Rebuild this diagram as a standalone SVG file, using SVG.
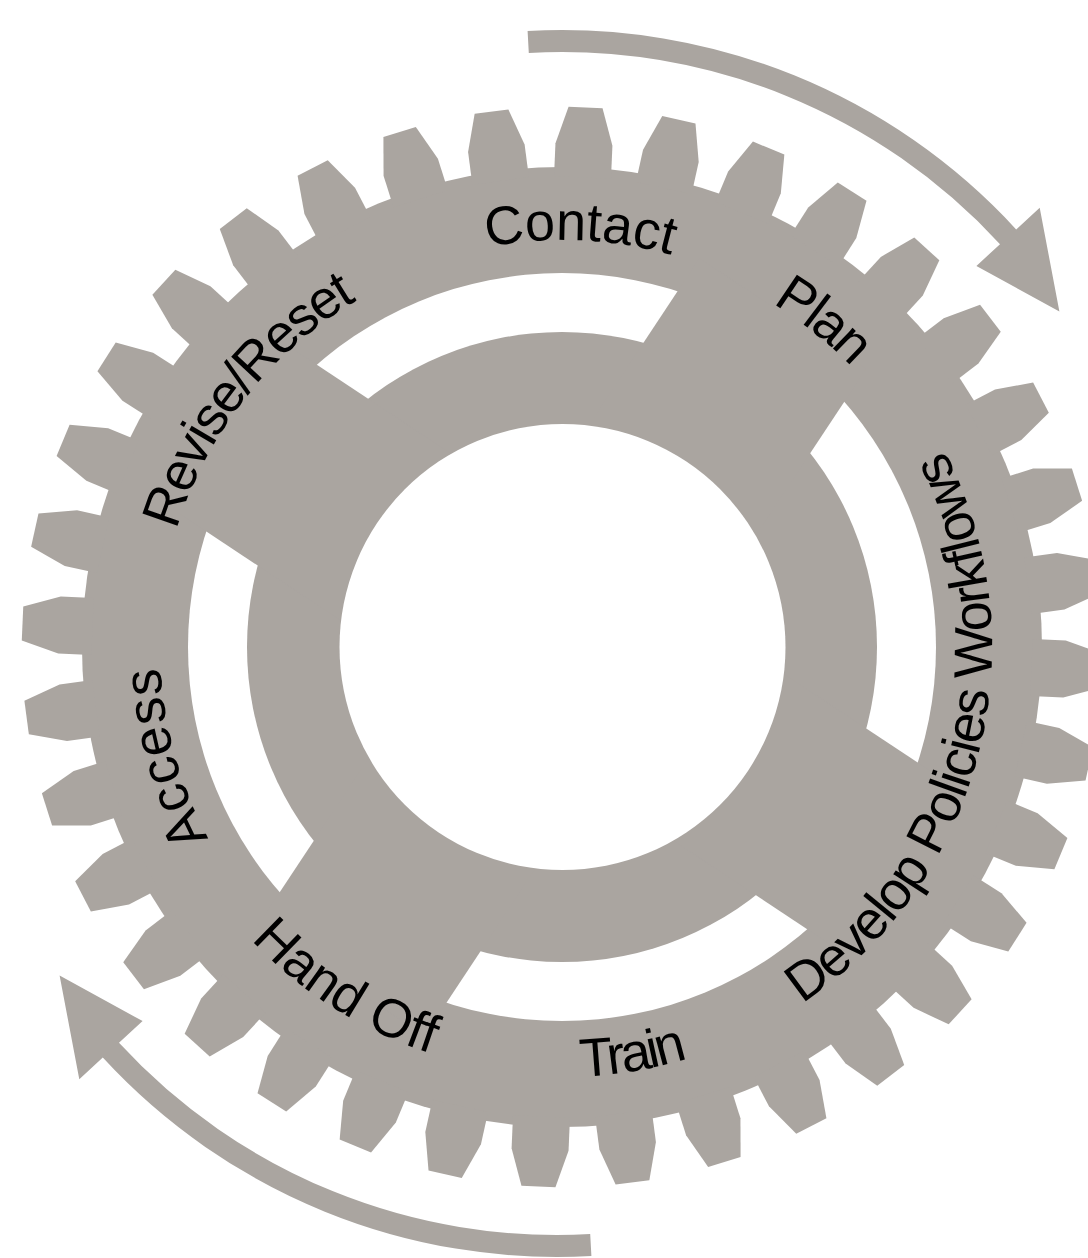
<svg xmlns="http://www.w3.org/2000/svg" xmlns:xlink="http://www.w3.org/1999/xlink" width="1088" height="1258" viewBox="0 0 1088 1258">
<style>
.g{fill:#aaa5a0}
.w{fill:#ffffff}
.lbl{font-family:"Liberation Sans",Arial,Helvetica,sans-serif;font-size:54px;fill:#000000}
</style>
<defs>
<polygon id="tooth" points="-28.5,-470 -28.5,-503 -17,-540 17,-540 28.5,-503 28.5,-470"/>
<path id="arrow" d="M527.6,31 A617,617 0 0 1 1016.2,229.4 L1039.7,207.7 L1059.4,311.5 L976.4,265.9 L1000,244.2 A595,595 0 0 0 528.8,52.9 Z"/>
<path id="p-contact" d="M164.6,558.9 A407,407 0 0 1 965.5,593.9"/>
<path id="p-plan" d="M295.5,344.7 A403,403 0 0 1 915.8,839.9"/>
<path id="p-revise" d="M262.5,916.6 A403,403 0 0 1 751.2,291.2"/>
<path id="p-access" d="M601.2,1047.1 A402,402 0 0 1 388.3,284.5"/>
<path id="p-develop" d="M468.9,1066.8 A430,430 0 0 0 684.1,234.7"/>
<path id="p-train" d="M156.9,791.3 A430,430 0 0 0 992,650"/>
<path id="p-handoff" d="M166.9,485 A427,427 0 0 0 877.8,934.4"/>
</defs>
<rect width="1088" height="1258" fill="#ffffff"/>
<g id="connectors" class="g">
<use xlink:href="#arrow"/>
<use xlink:href="#arrow" transform="translate(-5 -7) rotate(180 562 647)"/>
</g>
<g id="gear">
<g class="g" transform="translate(562 647)">
<circle r="480"/>
<use xlink:href="#tooth" transform="rotate(2.5)"/>
<use xlink:href="#tooth" transform="rotate(12.5)"/>
<use xlink:href="#tooth" transform="rotate(22.5)"/>
<use xlink:href="#tooth" transform="rotate(32.5)"/>
<use xlink:href="#tooth" transform="rotate(42.5)"/>
<use xlink:href="#tooth" transform="rotate(52.5)"/>
<use xlink:href="#tooth" transform="rotate(62.5)"/>
<use xlink:href="#tooth" transform="rotate(72.5)"/>
<use xlink:href="#tooth" transform="rotate(82.5)"/>
<use xlink:href="#tooth" transform="rotate(92.5)"/>
<use xlink:href="#tooth" transform="rotate(102.5)"/>
<use xlink:href="#tooth" transform="rotate(112.5)"/>
<use xlink:href="#tooth" transform="rotate(122.5)"/>
<use xlink:href="#tooth" transform="rotate(132.5)"/>
<use xlink:href="#tooth" transform="rotate(142.5)"/>
<use xlink:href="#tooth" transform="rotate(152.5)"/>
<use xlink:href="#tooth" transform="rotate(162.5)"/>
<use xlink:href="#tooth" transform="rotate(172.5)"/>
<use xlink:href="#tooth" transform="rotate(182.5)"/>
<use xlink:href="#tooth" transform="rotate(192.5)"/>
<use xlink:href="#tooth" transform="rotate(202.5)"/>
<use xlink:href="#tooth" transform="rotate(212.5)"/>
<use xlink:href="#tooth" transform="rotate(222.5)"/>
<use xlink:href="#tooth" transform="rotate(232.5)"/>
<use xlink:href="#tooth" transform="rotate(242.5)"/>
<use xlink:href="#tooth" transform="rotate(252.5)"/>
<use xlink:href="#tooth" transform="rotate(262.5)"/>
<use xlink:href="#tooth" transform="rotate(272.5)"/>
<use xlink:href="#tooth" transform="rotate(282.5)"/>
<use xlink:href="#tooth" transform="rotate(292.5)"/>
<use xlink:href="#tooth" transform="rotate(302.5)"/>
<use xlink:href="#tooth" transform="rotate(312.5)"/>
<use xlink:href="#tooth" transform="rotate(322.5)"/>
<use xlink:href="#tooth" transform="rotate(332.5)"/>
<use xlink:href="#tooth" transform="rotate(342.5)"/>
<use xlink:href="#tooth" transform="rotate(352.5)"/>
</g>
<circle class="w" cx="562" cy="647" r="374"/>
<circle class="g" cx="562" cy="647" r="315"/>
<g class="g" transform="translate(562 647)">
<rect x="-100" y="-400" width="200" height="800" transform="rotate(33.5)"/>
<rect x="-100" y="-400" width="200" height="800" transform="rotate(123.5)"/>
</g>
<circle class="w" cx="562.5" cy="647" r="223"/>
</g>
<g id="label-contact"><text class="lbl"><textPath xlink:href="#p-contact" startOffset="50%" text-anchor="middle">Contact</textPath></text></g>
<g id="label-plan"><text class="lbl" letter-spacing="-2"><textPath xlink:href="#p-plan" startOffset="50%" text-anchor="middle">Plan</textPath></text></g>
<g id="label-develop"><text class="lbl" letter-spacing="-1.5"><textPath xlink:href="#p-develop" startOffset="50%" text-anchor="middle">Develop Policies Workflows</textPath></text></g>
<g id="label-train"><text class="lbl" letter-spacing="-3"><textPath xlink:href="#p-train" startOffset="50%" text-anchor="middle">Train</textPath></text></g>
<g id="label-handoff"><text class="lbl"><textPath xlink:href="#p-handoff" startOffset="50%" text-anchor="middle">Hand Off</textPath></text></g>
<g id="label-access"><text class="lbl" letter-spacing="1"><textPath xlink:href="#p-access" startOffset="50%" text-anchor="middle">Access</textPath></text></g>
<g id="label-revise"><text class="lbl" letter-spacing="-2"><textPath xlink:href="#p-revise" startOffset="50%" text-anchor="middle">Revise/Reset</textPath></text></g>
</svg>
